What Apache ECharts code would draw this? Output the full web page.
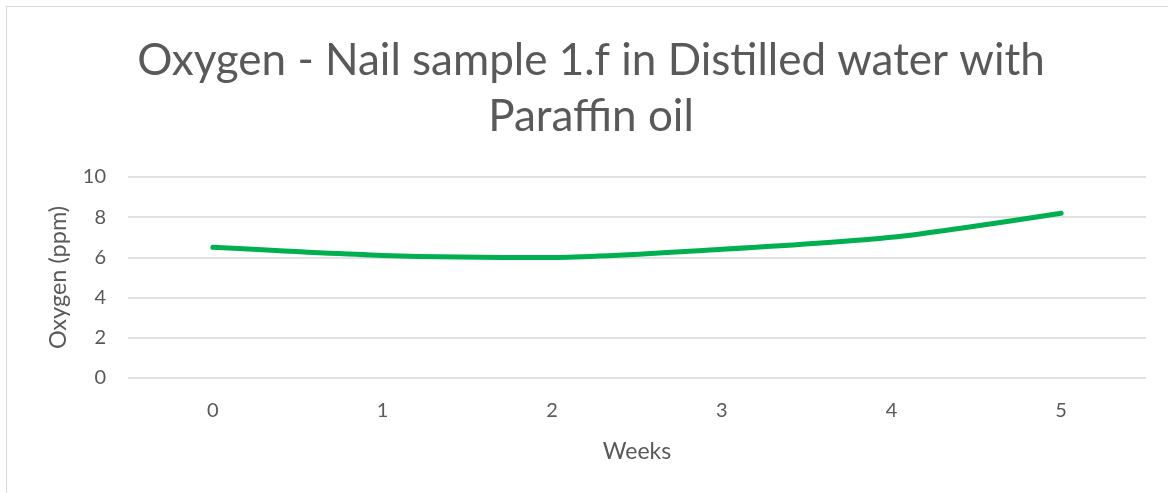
<!DOCTYPE html>
<html>
<head>
<meta charset="utf-8">
<script src="https://cdn.jsdelivr.net/npm/echarts@6/dist/echarts.min.js"></script>
<style>
  html, body { margin: 0; padding: 0; background: #ffffff; }
  #frame { position: absolute; left: 6px; top: 6px; width: 1200px; height: 520px;
           border-top: 1px solid #d9d9d9; border-left: 1px solid #d9d9d9; }
  #chart { position: absolute; left: 0; top: 0; width: 1168px; height: 493px; }
</style>
</head>
<body>
<div id="frame"></div>
<div id="chart"></div>
<script>
// Weekly dissolved-oxygen readings
const weeks = ['0', '1', '2', '3', '4', '5'];
const oxygenPpm = [6.5, 6.1, 6.0, 6.4, 7.0, 8.2];
const yTicks = { min: 0, max: 10, interval: 2 };

const textColor = '#595959';
const fontFamily = 'Lato, "Open Sans", sans-serif';

const chart = echarts.init(document.getElementById('chart'), null, { renderer: 'canvas' });
chart.setOption({
  animation: false,
  backgroundColor: 'transparent',
  title: {
    text: 'Oxygen - Nail sample 1.f in Distilled water with\nParaffin oil',
    left: 586,
    top: 28,
    textAlign: 'center',
    textStyle: {
      color: textColor,
      fontFamily: fontFamily,
      fontWeight: 'normal',
      fontSize: 44,
      lineHeight: 56
    }
  },
  grid: { left: 128, right: 22, top: 177, bottom: 115, containLabel: false },
  xAxis: {
    type: 'category',
    data: weeks,
    boundaryGap: true,
    name: 'Weeks',
    nameLocation: 'middle',
    nameGap: 62,
    nameTextStyle: { color: textColor, fontFamily: fontFamily, fontSize: 23 },
    axisLine: { show: false },
    axisTick: { show: false },
    axisLabel: { color: textColor, fontFamily: fontFamily, fontSize: 20, margin: 23 }
  },
  yAxis: {
    type: 'value',
    min: yTicks.min,
    max: yTicks.max,
    interval: yTicks.interval,
    name: 'Oxygen (ppm)',
    nameLocation: 'middle',
    nameGap: 58,
    nameTextStyle: { color: textColor, fontFamily: fontFamily, fontSize: 23.5 },
    axisLine: { show: false },
    axisTick: { show: false },
    axisLabel: { color: textColor, fontFamily: fontFamily, fontSize: 20, margin: 22 },
    splitLine: { lineStyle: { color: '#d9d9d9', width: 1.5 } }
  },
  series: [{
    type: 'line',
    data: oxygenPpm,
    smooth: 0.25,
    showSymbol: false,
    lineStyle: { color: '#00b050', width: 5, cap: 'round' }
  }]
});
</script>
</body>
</html>
